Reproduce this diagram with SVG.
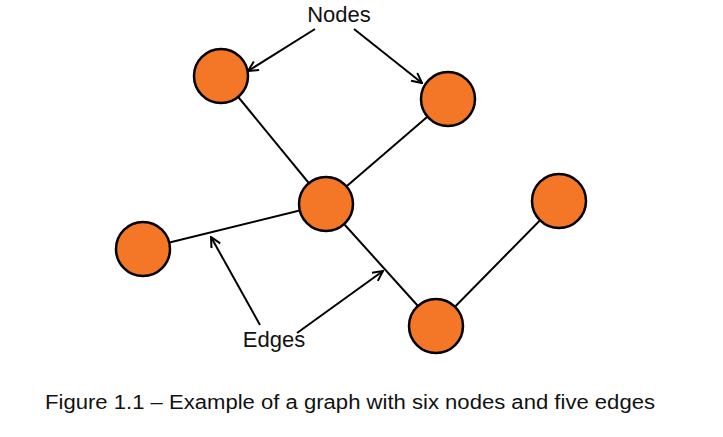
<svg xmlns="http://www.w3.org/2000/svg" width="723" height="437" viewBox="0 0 723 437">
<style>
.node{fill:#F37726;stroke:#000;stroke-width:2.5}
.edge{stroke:#000;stroke-width:2;fill:none}
.ptr{stroke:#000;stroke-width:2;fill:none;marker-end:url(#open)}
.lbl{font-family:"Liberation Sans","Open Sans",sans-serif;fill:#111;text-anchor:middle}
</style>
<defs>
<marker id="open" viewBox="0 0 12 12" refX="11" refY="6" markerWidth="12" markerHeight="12" markerUnits="userSpaceOnUse" orient="auto">
<path d="M1,1 L11,6 L1,11" fill="none" stroke="#000" stroke-width="2"/>
</marker>
</defs>
<g id="connectors">
<line class="edge" x1="221" y1="76" x2="326" y2="204"/>
<line class="edge" x1="448" y1="99" x2="326" y2="204"/>
<line class="edge" x1="143" y1="249" x2="326" y2="204"/>
<line class="edge" x1="326" y1="204" x2="436" y2="326"/>
<line class="edge" x1="436" y1="326" x2="559" y2="201"/>
<line class="ptr" x1="315" y1="29" x2="248" y2="71"/>
<line class="ptr" x1="354" y1="29" x2="422" y2="83"/>
<line class="ptr" x1="260" y1="325" x2="211" y2="237"/>
<line class="ptr" x1="297" y1="333" x2="383" y2="271"/>
</g>
<g id="node-a"><circle class="node" cx="221" cy="76" r="27"/></g>
<g id="node-b"><circle class="node" cx="448" cy="99" r="27"/></g>
<g id="node-c"><circle class="node" cx="326" cy="204" r="27"/></g>
<g id="node-d"><circle class="node" cx="143" cy="249" r="27"/></g>
<g id="node-e"><circle class="node" cx="436" cy="326" r="27"/></g>
<g id="node-f"><circle class="node" cx="559" cy="201" r="27"/></g>
<g id="label-nodes"><text class="lbl" x="339" y="22" font-size="22">Nodes</text></g>
<g id="label-edges"><text class="lbl" x="274" y="347" font-size="22">Edges</text></g>
<g id="caption"><text class="lbl" x="350" y="409" font-size="20" textLength="610" lengthAdjust="spacingAndGlyphs">Figure 1.1 – Example of a graph with six nodes and five edges</text></g>
</svg>
